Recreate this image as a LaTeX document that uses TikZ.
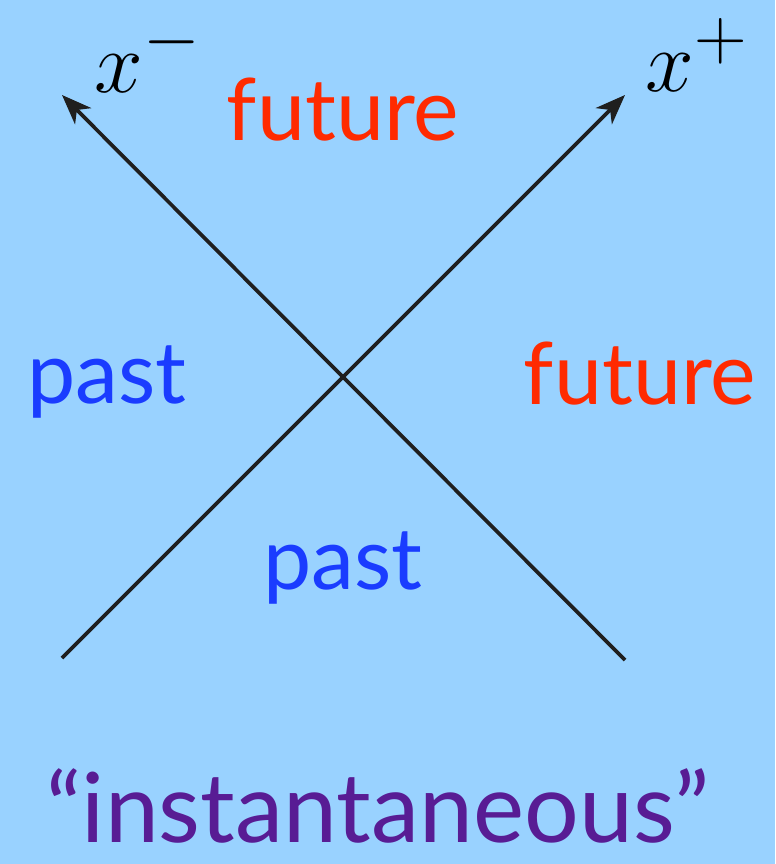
\documentclass[tikz,border=0pt]{standalone}
\usepackage{amsmath,amssymb}
\usepackage{graphicx}
\usepackage{fontspec}
\setmainfont{Lato}
\usepackage{xcolor}
\usetikzlibrary{arrows.meta, positioning}
\definecolor{SkyBg}{RGB}{153, 210, 255}
\definecolor{FutureRed}{RGB}{255, 42, 0}
\definecolor{PastBlue}{RGB}{26, 60, 255}
\definecolor{NowPurple}{RGB}{88, 28, 148}

\tikzset{
  lightray/.style={line width=2.1pt, draw=black!88, -{Stealth[length=17pt, width=13pt, inset=5pt]}},
  regionlabel/.style={inner sep=0pt, font=\fontsize{49}{55}\selectfont},
  axislabel/.style={inner sep=0pt, font=\fontsize{24.88}{30}\selectfont}
}

\begin{document}
\begin{tikzpicture}[x=0.02cm, y=-0.02cm]
  % background, fixes the margins
  \fill[SkyBg] (0,0) rectangle (775,864);
  \useasboundingbox (0,0) rectangle (775,864);

  % light cone ends
  \coordinate (plusStart) at (62,658);
  \coordinate (plusEnd) at (625,95);
  \coordinate (minusStart) at (625,660);
  \coordinate (minusEnd) at (62,95);

  \draw[lightray] (plusStart) -- (plusEnd);
  \draw[lightray] (minusStart) -- (minusEnd);

  % axis labels
  \node[axislabel] (xminus) at (148,55) {\scalebox{2}{$x^{-}$}};
  \node[axislabel] (xplus) at (697,55) {\scalebox{2}{$x^{+}$}};

  % regions
  \node[regionlabel, text=FutureRed] (futureTop) at (343,110) {future};
  \node[regionlabel, text=PastBlue] (pastLeft) at (107,382) {past};
  \node[regionlabel, text=FutureRed] (futureRight) at (640,374) {future};
  \node[regionlabel, text=PastBlue] (pastBottom) at (343,568) {past};

  \node[regionlabel, text=NowPurple, font=\fontsize{55}{60}\selectfont] (caption) at (378,806) {``instantaneous''};
\end{tikzpicture}
\end{document}
